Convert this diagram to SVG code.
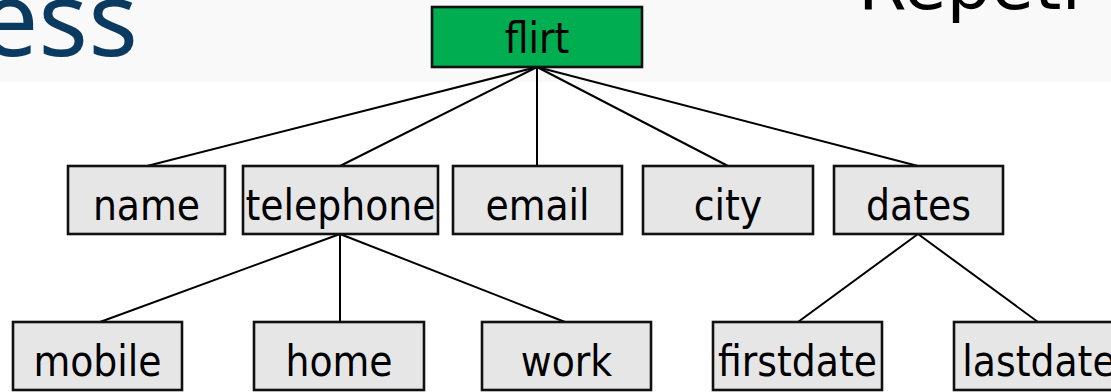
<svg xmlns="http://www.w3.org/2000/svg" width="1111" height="392" viewBox="0 0 1111 392">
<style>
.box{fill:#e6e6e6;stroke:#111;stroke-width:2.6}
.root{fill:#00ad50;stroke:#111;stroke-width:2.6}
.lbl{font-family:"DejaVu Sans Condensed","DejaVu Sans",sans-serif;font-stretch:condensed;font-size:42px;fill:#000;text-anchor:middle}
.conn line{stroke:#000;stroke-width:2}
</style>
<rect x="0" y="0" width="1111" height="82" fill="#f9f9fa"/>
<rect x="0" y="82" width="1111" height="310" fill="#ffffff"/>
<text x="138" y="56" font-family="'Noto Sans',sans-serif" font-size="104" fill="#0b3a60" text-anchor="end">ess</text>
<text x="858" y="9" font-family="'DejaVu Sans',sans-serif" font-size="70" fill="#000">Repeti</text>
<g id="connectors" class="conn">
<line x1="537" y1="67" x2="147" y2="166"/>
<line x1="537" y1="67" x2="340" y2="166"/>
<line x1="537" y1="67" x2="537" y2="166"/>
<line x1="537" y1="67" x2="728" y2="166"/>
<line x1="537" y1="67" x2="918" y2="166"/>
<line x1="340" y1="234" x2="100" y2="322"/>
<line x1="340" y1="234" x2="340" y2="322"/>
<line x1="340" y1="234" x2="565" y2="322"/>
<line x1="918" y1="234" x2="798" y2="322"/>
<line x1="918" y1="234" x2="1038" y2="322"/>
</g>
<g id="flirt"><rect class="root" x="432" y="7" width="210" height="60"/><text class="lbl" x="537" y="53">flirt</text></g>
<g id="name"><rect class="box" x="68" y="166" width="157" height="68"/><text class="lbl" x="146.5" y="220">name</text></g>
<g id="telephone"><rect class="box" x="243" y="166" width="195" height="68"/><text class="lbl" x="340.5" y="220">telephone</text></g>
<g id="email"><rect class="box" x="453" y="166" width="169" height="68"/><text class="lbl" x="537.5" y="220">email</text></g>
<g id="city"><rect class="box" x="643" y="166" width="170" height="68"/><text class="lbl" x="728" y="220">city</text></g>
<g id="dates"><rect class="box" x="834" y="166" width="169" height="68"/><text class="lbl" x="918.5" y="220">dates</text></g>
<g id="mobile"><rect class="box" x="13" y="322" width="169" height="68"/><text class="lbl" x="97.5" y="376">mobile</text></g>
<g id="home"><rect class="box" x="254" y="322" width="170" height="68"/><text class="lbl" x="339" y="376">home</text></g>
<g id="work"><rect class="box" x="482" y="322" width="169" height="68"/><text class="lbl" x="566.5" y="376">work</text></g>
<g id="firstdate"><rect class="box" x="713" y="322" width="169" height="68"/><text class="lbl" x="797.5" y="376">firstdate</text></g>
<g id="lastdate"><rect class="box" x="954" y="322" width="170" height="68"/><text class="lbl" x="1039" y="376">lastdate</text></g>
</svg>
